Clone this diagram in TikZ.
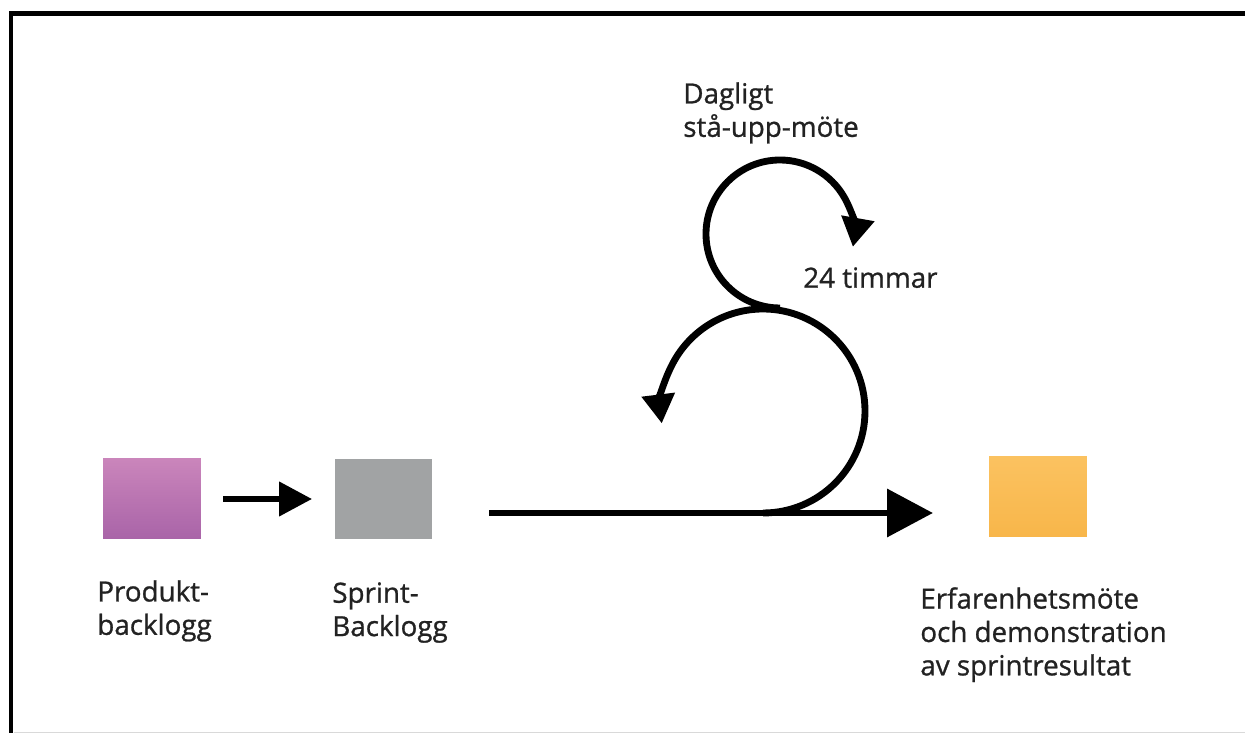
\documentclass[tikz,border=0pt]{standalone}
\usepackage{fontspec}
\setmainfont{Open Sans}[FakeBold=0.9]
\usetikzlibrary{arrows.meta}
\usetikzlibrary{positioning}

\definecolor{produkttop}{HTML}{CA85BB}
\definecolor{produktbot}{HTML}{A964A8}
\definecolor{sprintgray}{HTML}{A1A3A4}
\definecolor{retrotop}{HTML}{FBC260}
\definecolor{retrobot}{HTML}{F8B64A}
\definecolor{inktext}{HTML}{222222}

\begin{document}
\begin{tikzpicture}[%
  >={Triangle[length=0.58cm,width=0.64cm]},
  x=0.02cm, y=0.02cm,
  card/.style={minimum width=1.96cm, minimum height=1.6cm, inner sep=0pt},
  flow/.style={line width=3.9pt},
  caption/.style={align=left, anchor=north west, inner sep=0pt,
    font=\fontsize{15.8}{19}\selectfont, text=inktext}
]

  \useasboundingbox (0,0) rectangle (1245,733);

  % frame
  \draw[line width=0.1cm] (1245,719) -| (11,0);
  \draw[black!15, line width=0.6pt] (14,0.5) -- (1245,0.5);

  % backlogs and review
  \node[card, top color=produkttop, bottom color=produktbot] (produkt) at (152,234) {};
  \node[card, fill=sprintgray] (sprint) at (383.5,234) {};
  \node[card, top color=retrotop, bottom color=retrobot] (retro) at (1038,236) {};

  \node[caption] (produkt-text) at (97,153) {Produkt-\\backlogg};
  \node[caption] (sprint-text) at (332,151) {Sprint-\\Backlogg};
  \node[caption] (retro-text) at (920,146) {Erfarenhetsmöte\\och demonstration\\av sprintresultat};
  \node[caption] (standup) at (683,651) {Dagligt\\stå-upp-möte};
  \node[caption] (day) at (803,466) {24 timmar};

  \draw[flow, ->, >={Triangle[length=0.66cm,width=0.66cm]},
    shorten <=0.44cm, shorten >=0.44cm] (produkt) -- (sprint);

  % sprint line with the daily loop
  \coordinate (sprint-out) at (489,220);
  \coordinate (retro-in) at (933,220);
  \coordinate (loop-foot) at (763,220);
  \coordinate (loop-neck) at (780,425);

  \draw[flow, ->, >={Triangle[length=0.92cm,width=0.94cm]}] (sprint-out) -- (retro-in);
  \draw[flow, ->] (loop-foot) arc[start angle=-90, end angle=187, radius=102];
  \draw[flow, ->] (loop-neck) arc[start angle=270, end angle=-10, radius=74];

\end{tikzpicture}
\end{document}
